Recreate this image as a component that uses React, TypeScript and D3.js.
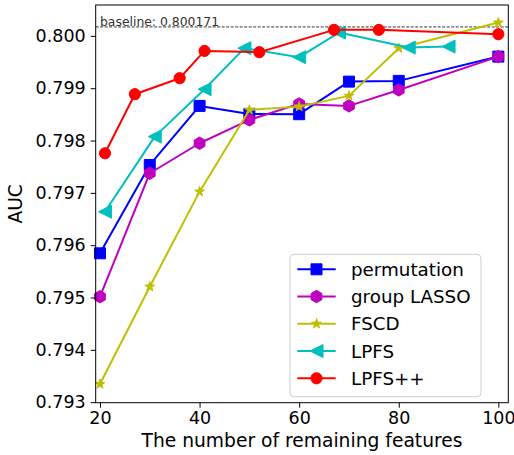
import React, { useRef, useEffect } from 'react';
import * as d3 from 'd3';

// data
const permX = [20, 30, 40, 50, 60, 70, 80, 100];
const permY = [0.795845, 0.797533, 0.798662, 0.798509, 0.798503, 0.799126, 0.79914, 0.799604];
const lassoX = [20, 30, 40, 50, 60, 70, 80, 100];
const lassoY = [0.795015, 0.797375, 0.797948, 0.798394, 0.7987, 0.798662, 0.798967, 0.799604];
const fscdX = [20, 30, 40, 50, 60, 70, 80, 100];
const fscdY = [0.793346, 0.795207, 0.797023, 0.798585, 0.798648, 0.798853, 0.799765, 0.800254];
const lpfsX = [21, 31, 41, 49, 60, 68, 82, 90];
const lpfsY = [0.79664, 0.798075, 0.798981, 0.799765, 0.799593, 0.800063, 0.799776, 0.799795];
const lpfsppX = [21, 27, 36, 41, 52, 67, 76, 100];
const lpfsppY = [0.797757, 0.798885, 0.799191, 0.799713, 0.799688, 0.800115, 0.800115, 0.800032];

const seriesNames = ['permutation', 'group LASSO', 'FSCD', 'LPFS', 'LPFS++'];
const seriesColors = ['#0000ff', '#bf00bf', '#bfbf00', '#00bfbf', '#ff0000'];
const seriesMarkers = ['square', 'hexagon', 'star', 'triangleLeft', 'circle'];

const xTicks = [20, 40, 60, 80, 100];
const yTicks = [0.793, 0.794, 0.795, 0.796, 0.797, 0.798, 0.799, 0.8];
const baseline = 0.800171;

const FONT = 'DejaVu Sans';

function markerPath(kind: string): string {
  if (kind === 'square') {
    return 'M-5.5,-5.5H5.5V5.5H-5.5Z';
  }
  if (kind === 'circle') {
    return d3.symbol(d3.symbolCircle, Math.PI * 5.6 * 5.6)() as string;
  }
  if (kind === 'star') {
    return d3.symbol(d3.symbolStar, 30)() as string;
  }
  if (kind === 'hexagon') {
    const r = 6.2;
    const pts = d3.range(6).map((i) => {
      const a = (Math.PI / 3) * i - Math.PI / 2;
      return [r * Math.cos(a), r * Math.sin(a)];
    });
    return 'M' + pts.map((p) => p.join(',')).join('L') + 'Z';
  }
  // 左指三角形
  const r = 6.5;
  return `M${-r},0L${r},${-r}L${r},${r}Z`;
}

function drawChart(svgEle: SVGSVGElement) {
  const svg = d3.select(svgEle);
  svg.selectAll('*').remove();

  const left = 95.7;
  const right = 508.3;
  const top = 5;
  const bottom = 402.7;

  const x = d3.scaleLinear().domain([19.14, 102.0]).range([left, right]);
  const y = d3.scaleLinear().domain([0.79299, 0.80059]).range([bottom, top]);

  const xs = [permX, lassoX, fscdX, lpfsX, lpfsppX];
  const ys = [permY, lassoY, fscdY, lpfsY, lpfsppY];

  svg.append('rect')
    .attr('x', 0).attr('y', 0).attr('width', 514).attr('height', 455)
    .attr('fill', 'white');

  // baseline 虚线
  svg.append('line')
    .attr('x1', left).attr('x2', right)
    .attr('y1', y(baseline)).attr('y2', y(baseline))
    .attr('stroke', '#000')
    .attr('stroke-width', 0.8)
    .attr('stroke-dasharray', '3,1.5');
  svg.append('text')
    .attr('x', x(20))
    .attr('y', y(baseline) - 1)
    .attr('font-family', FONT)
    .attr('font-size', 12.4)
    .attr('fill', '#333')
    .text('baseline: ' + baseline.toFixed(6));

  // 各条曲线
  seriesNames.forEach((name, si) => {
    const pts = xs[si].map((v, i) => [x(v), y(ys[si][i])] as [number, number]);
    const g = svg.append('g');
    g.append('path')
      .attr('d', d3.line()(pts) as string)
      .attr('fill', 'none')
      .attr('stroke', seriesColors[si])
      .attr('stroke-width', 2)
      .attr('stroke-linejoin', 'round');
    g.selectAll('path.m')
      .data(pts)
      .enter()
      .append('path')
      .attr('class', 'm')
      .attr('d', markerPath(seriesMarkers[si]))
      .attr('transform', (d) => `translate(${d[0]},${d[1]})`)
      .attr('fill', seriesColors[si])
      .attr('stroke', seriesColors[si])
      .attr('stroke-width', 1);
  });

  // 边框
  svg.append('rect')
    .attr('x', left).attr('y', top)
    .attr('width', right - left).attr('height', bottom - top)
    .attr('fill', 'none')
    .attr('stroke', '#000')
    .attr('stroke-width', 1);

  // x 轴
  const xAxis = svg.append('g')
    .attr('transform', `translate(0,${bottom})`)
    .call(d3.axisBottom(x).tickValues(xTicks).tickSize(5).tickPadding(4).tickFormat(d3.format('d')));
  xAxis.select('.domain').remove();
  xAxis.selectAll('text').attr('font-size', 17.5).attr('font-family', FONT).attr('fill', '#000');
  xAxis.selectAll('line').attr('stroke', '#000');

  // y 轴
  const yAxis = svg.append('g')
    .attr('transform', `translate(${left},0)`)
    .call(d3.axisLeft(y).tickValues(yTicks).tickSize(5).tickPadding(5).tickFormat(d3.format('.3f')));
  yAxis.select('.domain').remove();
  yAxis.selectAll('text').attr('font-size', 17.5).attr('font-family', FONT).attr('fill', '#000');
  yAxis.selectAll('line').attr('stroke', '#000');

  // 轴标题
  svg.append('text')
    .attr('x', (left + right) / 2)
    .attr('y', 447)
    .attr('text-anchor', 'middle')
    .attr('font-family', FONT)
    .attr('font-size', 18.7)
    .text('The number of remaining features');
  svg.append('text')
    .attr('transform', `translate(22,${(top + bottom) / 2}) rotate(-90)`)
    .attr('text-anchor', 'middle')
    .attr('font-family', FONT)
    .attr('font-size', 18.7)
    .text('AUC');

  // 图例
  const lg = svg.append('g');
  lg.append('rect')
    .attr('x', 290).attr('y', 254.3)
    .attr('width', 191).attr('height', 142.4)
    .attr('rx', 4)
    .attr('fill', 'white')
    .attr('fill-opacity', 0.8)
    .attr('stroke', '#cccccc')
    .attr('stroke-width', 1);
  seriesNames.forEach((name, si) => {
    const ry = 269.3 + si * 27.25;
    lg.append('line')
      .attr('x1', 297.3).attr('x2', 335.7)
      .attr('y1', ry).attr('y2', ry)
      .attr('stroke', seriesColors[si])
      .attr('stroke-width', 2);
    lg.append('path')
      .attr('d', markerPath(seriesMarkers[si]))
      .attr('transform', `translate(316.5,${ry})`)
      .attr('fill', seriesColors[si])
      .attr('stroke', seriesColors[si])
      .attr('stroke-width', 1);
    lg.append('text')
      .attr('x', 351)
      .attr('y', ry)
      .attr('dy', '0.36em')
      .attr('font-family', FONT)
      .attr('font-size', 18.3)
      .attr('fill', '#000')
      .text(name);
  });
}

export default function App(): JSX.Element {
  const svgRef = useRef<SVGSVGElement>(null);

  useEffect(() => {
    const svgEle = svgRef.current;
    if (svgEle == null) {
      return;
    }
    drawChart(svgEle);
  }, []);

  return (
    <div style={{ position: 'absolute', left: 0, top: 0 }}>
      <svg ref={svgRef} width={514} height={455} style={{ display: 'block' }} />
    </div>
  );
}
